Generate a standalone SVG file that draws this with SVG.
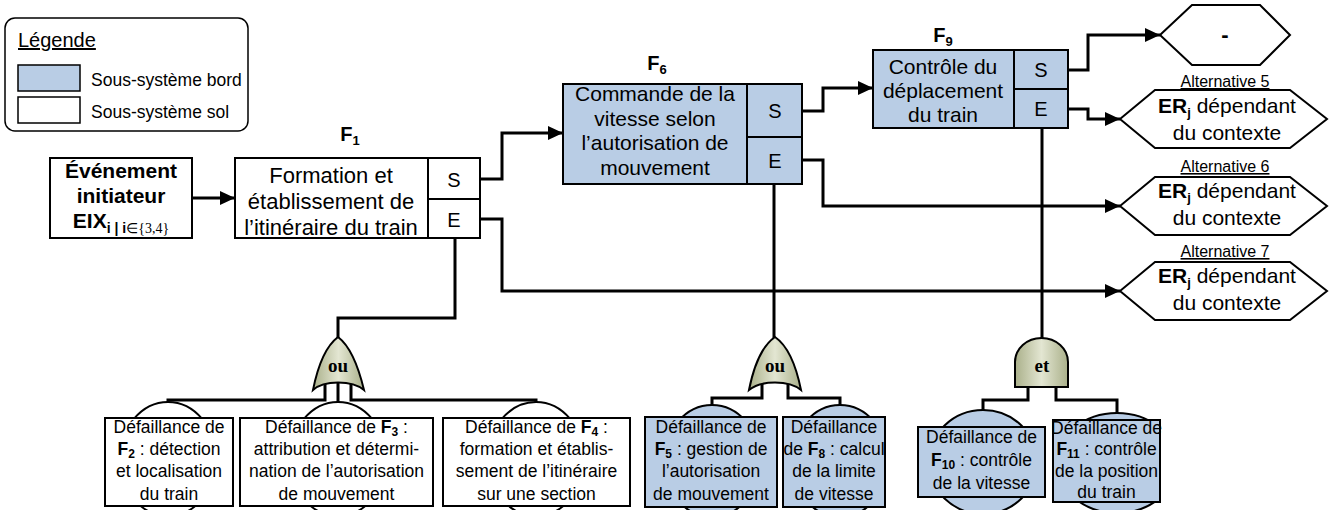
<svg xmlns="http://www.w3.org/2000/svg" width="1330" height="510" viewBox="0 0 1330 510">
<style>
text{font-family:"Liberation Sans",Arial,sans-serif;fill:#000}
.box{stroke:#000;stroke-width:2}
.bord{fill:#b9cde5}
.sol{fill:#fff}
.ln{fill:none;stroke:#000;stroke-width:3;stroke-linejoin:miter}
.arr{fill:none;stroke:#000;stroke-width:3;marker-end:url(#ah)}
.t22{font-size:22px;text-anchor:middle}
.t21{font-size:21px;text-anchor:middle}
.t18{font-size:17.5px;text-anchor:middle}
.t20{font-size:20px;text-anchor:middle}
.er{font-size:21px;text-anchor:middle}
.fl{font-size:20px;font-weight:bold;text-anchor:middle}
.alt{font-size:16px;text-anchor:middle;text-decoration:underline}
.gate{stroke:#000;stroke-width:2;fill:url(#gg)}
.gt{font-family:"Liberation Serif","Times New Roman",serif;font-weight:bold;font-size:19px;text-anchor:middle}
.hex{fill:#fff;stroke:#000;stroke-width:2}
</style>
<defs>
<marker id="ah" markerUnits="userSpaceOnUse" markerWidth="16" markerHeight="14" refX="15" refY="7" orient="auto">
<path d="M0,0 L15,7 L0,14 z" fill="#000"/>
</marker>
<linearGradient id="gg" x1="0" y1="0" x2="1" y2="0">
<stop offset="0" stop-color="#aab08a"/>
<stop offset="0.5" stop-color="#e3e6d2"/>
<stop offset="1" stop-color="#aab08a"/>
</linearGradient>
<clipPath id="c2"><rect x="106" y="380" width="126" height="140"/></clipPath>
<clipPath id="c3"><rect x="241" y="380" width="191" height="140"/></clipPath>
<clipPath id="c4"><rect x="444" y="380" width="185" height="140"/></clipPath>
<clipPath id="c5"><rect x="646" y="380" width="130" height="140"/></clipPath>
<clipPath id="c8"><rect x="784" y="380" width="100" height="140"/></clipPath>
<clipPath id="c10"><rect x="919" y="380" width="125" height="140"/></clipPath>
<clipPath id="c11"><rect x="1054" y="380" width="105" height="140"/></clipPath>
</defs>

<g id="legend">
<rect x="5" y="18" width="243" height="113" rx="10" fill="#fff" stroke="#000" stroke-width="1.5"/>
<text x="18" y="47" font-size="20" text-decoration="underline">Légende</text>
<rect x="18" y="65" width="62" height="26" class="bord" stroke="#000" stroke-width="1.5"/>
<text x="91" y="86" font-size="17.5">Sous-système bord</text>
<rect x="18" y="97" width="62" height="26" class="sol" stroke="#000" stroke-width="1.5"/>
<text x="91" y="118" font-size="17.5">Sous-système sol</text>
</g>

<g id="connectors">
<path class="arr" d="M192,198 L235,198"/>
<path class="arr" d="M480,179 L502,179 L502,133 L563,133"/>
<path class="arr" d="M480,219 L502,219 L502,291 L1120,291"/>
<path class="arr" d="M802,111 L823,111 L823,88 L873,88"/>
<path class="arr" d="M802,160 L823,160 L823,206 L1120,206"/>
<path class="arr" d="M1068,70 L1088,70 L1088,35 L1160,35"/>
<path class="arr" d="M1068,109 L1088,109 L1088,119 L1120,119"/>
<path class="ln" d="M455,238 L455,318 L338,318 L338,338"/>
<path class="ln" d="M774,184 L774,338"/>
<path class="ln" d="M1042,128 L1042,339"/>
<path class="ln" d="M325,382 L325,400 L168,400 L168,404"/>
<path class="ln" d="M338,378 L338,404"/>
<path class="ln" d="M351,382 L351,400 L536,400 L536,404"/>
<path class="ln" d="M762,382 L762,398 L712,398 L712,406"/>
<path class="ln" d="M788,382 L788,398 L840,398 L840,406"/>
<path class="ln" d="M1028,386 L1028,400 L983,400 L983,411"/>
<path class="ln" d="M1056,386 L1056,400 L1117,400 L1117,414"/>
</g>

<g id="initiateur">
<rect class="box sol" x="50" y="158" width="142" height="80"/>
<text x="121" y="178" font-size="21" font-weight="bold" text-anchor="middle">Événement</text>
<text x="121" y="203" font-size="21" font-weight="bold" text-anchor="middle">initiateur</text>
<text x="121" y="228" font-size="21" font-weight="bold" text-anchor="middle">EIX<tspan font-size="14" dy="5">i | i</tspan><tspan font-size="14" font-weight="normal" font-family="'Liberation Serif',serif">∈{3,4}</tspan></text>
</g>

<g id="F1">
<text x="350" y="141" class="fl">F<tspan font-size="13" dy="4">1</tspan></text>
<rect class="box sol" x="235" y="158" width="245" height="80"/>
<line x1="428" y1="158" x2="428" y2="238" stroke="#000" stroke-width="2"/>
<line x1="428" y1="199" x2="480" y2="199" stroke="#000" stroke-width="2"/>
<text x="331" y="183" class="t22">Formation et</text>
<text x="331" y="209" class="t22">établissement de</text>
<text x="331" y="235" class="t22">l’itinéraire du train</text>
<text x="454" y="187" class="t20">S</text>
<text x="454" y="227" class="t20">E</text>
</g>

<g id="F6">
<text x="657" y="70" class="fl">F<tspan font-size="13" dy="4">6</tspan></text>
<rect class="box bord" x="563" y="84" width="239" height="100"/>
<line x1="747" y1="84" x2="747" y2="184" stroke="#000" stroke-width="2"/>
<line x1="747" y1="137" x2="802" y2="137" stroke="#000" stroke-width="2"/>
<text x="655" y="101" class="t21">Commande de la</text>
<text x="655" y="126" class="t21">vitesse selon</text>
<text x="655" y="150" class="t21">l’autorisation de</text>
<text x="655" y="175" class="t21">mouvement</text>
<text x="775" y="118" class="t20">S</text>
<text x="775" y="168" class="t20">E</text>
</g>

<g id="F9">
<text x="943" y="42" class="fl">F<tspan font-size="13" dy="4">9</tspan></text>
<rect class="box bord" x="873" y="50" width="195" height="78"/>
<line x1="1014" y1="50" x2="1014" y2="128" stroke="#000" stroke-width="2"/>
<line x1="1014" y1="89" x2="1068" y2="89" stroke="#000" stroke-width="2"/>
<text x="943" y="74" class="t21">Contrôle du</text>
<text x="943" y="98" class="t21">déplacement</text>
<text x="943" y="122" class="t21">du train</text>
<text x="1041" y="77" class="t20">S</text>
<text x="1041" y="116" class="t20">E</text>
</g>

<g id="ER-dash">
<polygon class="hex" points="1160,35 1192,5 1260,5 1290,35 1260,65 1192,65"/>
<text x="1225" y="42" font-size="22" font-weight="bold" text-anchor="middle">-</text>
</g>

<g id="alt5">
<text x="1225" y="87" class="alt">Alternative 5</text>
<polygon class="hex" points="1120,119 1155,90 1290,90 1327,119 1290,148 1155,148"/>
<text x="1227" y="113" class="er"><tspan font-weight="bold">ER<tspan font-size="13" dy="4">j</tspan></tspan><tspan dy="-4"> dépendant</tspan></text>
<text x="1227" y="140" class="er">du contexte</text>
</g>

<g id="alt6">
<text x="1225" y="172" class="alt">Alternative 6</text>
<polygon class="hex" points="1120,206 1155,177 1290,177 1327,206 1290,235 1155,235"/>
<text x="1227" y="198" class="er"><tspan font-weight="bold">ER<tspan font-size="13" dy="4">j</tspan></tspan><tspan dy="-4"> dépendant</tspan></text>
<text x="1227" y="225" class="er">du contexte</text>
</g>

<g id="alt7">
<text x="1225" y="257" class="alt">Alternative 7</text>
<polygon class="hex" points="1120,291 1155,262 1290,262 1327,291 1290,320 1155,320"/>
<text x="1227" y="283" class="er"><tspan font-weight="bold">ER<tspan font-size="13" dy="4">j</tspan></tspan><tspan dy="-4"> dépendant</tspan></text>
<text x="1227" y="310" class="er">du contexte</text>
</g>

<g id="gate-ou1">
<path class="gate" d="M313,390 C318,365 326,346 338,337 C350,346 358,365 364,390 C352,380 324,380 313,390 Z"/>
<text x="338" y="372" class="gt">ou</text>
</g>
<g id="gate-ou2">
<path class="gate" d="M749,390 C754,365 762,346 775,337 C788,346 796,365 801,390 C789,380 761,380 749,390 Z"/>
<text x="775" y="372" class="gt">ou</text>
</g>
<g id="gate-et">
<path class="gate" d="M1015,387 L1015,362 A26.5,24 0 0 1 1068,362 L1068,387 Z"/>
<text x="1042" y="372" class="gt">et</text>
</g>

<g id="F2">
<ellipse cx="168" cy="459" rx="48" ry="57" class="box sol" clip-path="url(#c2)"/>
<rect class="box sol" x="105" y="418" width="128" height="88"/>
<text x="169" y="433" class="t18">Défaillance de</text>
<text x="169" y="455" class="t18"><tspan font-weight="bold">F<tspan font-size="12" dy="3">2</tspan></tspan><tspan dy="-3"> : détection</tspan></text>
<text x="169" y="477" class="t18">et localisation</text>
<text x="169" y="500" class="t18">du train</text>
</g>

<g id="F3">
<ellipse cx="338" cy="459" rx="48" ry="57" class="box sol" clip-path="url(#c3)"/>
<rect class="box sol" x="240" y="418" width="193" height="88"/>
<text x="336.5" y="433" class="t18">Défaillance de <tspan font-weight="bold">F<tspan font-size="12" dy="3">3</tspan></tspan><tspan dy="-3"> :</tspan></text>
<text x="336.5" y="455" class="t18">attribution et détermi-</text>
<text x="336.5" y="477" class="t18">nation de l’autorisation</text>
<text x="336.5" y="500" class="t18">de mouvement</text>
</g>

<g id="F4">
<ellipse cx="536" cy="459" rx="48" ry="57" class="box sol" clip-path="url(#c4)"/>
<rect class="box sol" x="443" y="418" width="187" height="88"/>
<text x="536.5" y="433" class="t18">Défaillance de <tspan font-weight="bold">F<tspan font-size="12" dy="3">4</tspan></tspan><tspan dy="-3"> :</tspan></text>
<text x="536.5" y="455" class="t18">formation et établis-</text>
<text x="536.5" y="477" class="t18">sement de l’itinéraire</text>
<text x="536.5" y="500" class="t18">sur une section</text>
</g>

<g id="F5">
<ellipse cx="712" cy="461" rx="48" ry="56" class="box bord" clip-path="url(#c5)"/>
<rect class="box bord" x="645" y="417" width="132" height="90"/>
<text x="711" y="433" class="t18">Défaillance de</text>
<text x="711" y="455" class="t18"><tspan font-weight="bold">F<tspan font-size="12" dy="3">5</tspan></tspan><tspan dy="-3"> : gestion de</tspan></text>
<text x="711" y="477" class="t18">l’autorisation</text>
<text x="711" y="500" class="t18">de mouvement</text>
</g>

<g id="F8">
<ellipse cx="840" cy="461" rx="48" ry="56" class="box bord" clip-path="url(#c8)"/>
<rect class="box bord" x="783" y="417" width="102" height="90"/>
<text x="834" y="433" class="t18">Défaillance</text>
<text x="834" y="455" class="t18">de <tspan font-weight="bold">F<tspan font-size="12" dy="3">8</tspan></tspan><tspan dy="-3"> : calcul</tspan></text>
<text x="834" y="477" class="t18">de la limite</text>
<text x="834" y="500" class="t18">de vitesse</text>
</g>

<g id="F10">
<ellipse cx="983" cy="462" rx="54" ry="52" class="box bord" clip-path="url(#c10)"/>
<rect class="box bord" x="918" y="427" width="127" height="70"/>
<text x="981.5" y="443" class="t18">Défaillance de</text>
<text x="981.5" y="466" class="t18"><tspan font-weight="bold">F<tspan font-size="12" dy="3">10</tspan></tspan><tspan dy="-3"> : contrôle</tspan></text>
<text x="981.5" y="489" class="t18">de la vitesse</text>
</g>

<g id="F11">
<ellipse cx="1117" cy="463" rx="60" ry="50" class="box bord" clip-path="url(#c11)"/>
<rect class="box bord" x="1053" y="420" width="107" height="82"/>
<text x="1106.5" y="434" class="t18">Défaillance de</text>
<text x="1106.5" y="455" class="t18"><tspan font-weight="bold">F<tspan font-size="12" dy="3">11</tspan></tspan><tspan dy="-3"> : contrôle</tspan></text>
<text x="1106.5" y="477" class="t18">de la position</text>
<text x="1106.5" y="498" class="t18">du train</text>
</g>
</svg>
